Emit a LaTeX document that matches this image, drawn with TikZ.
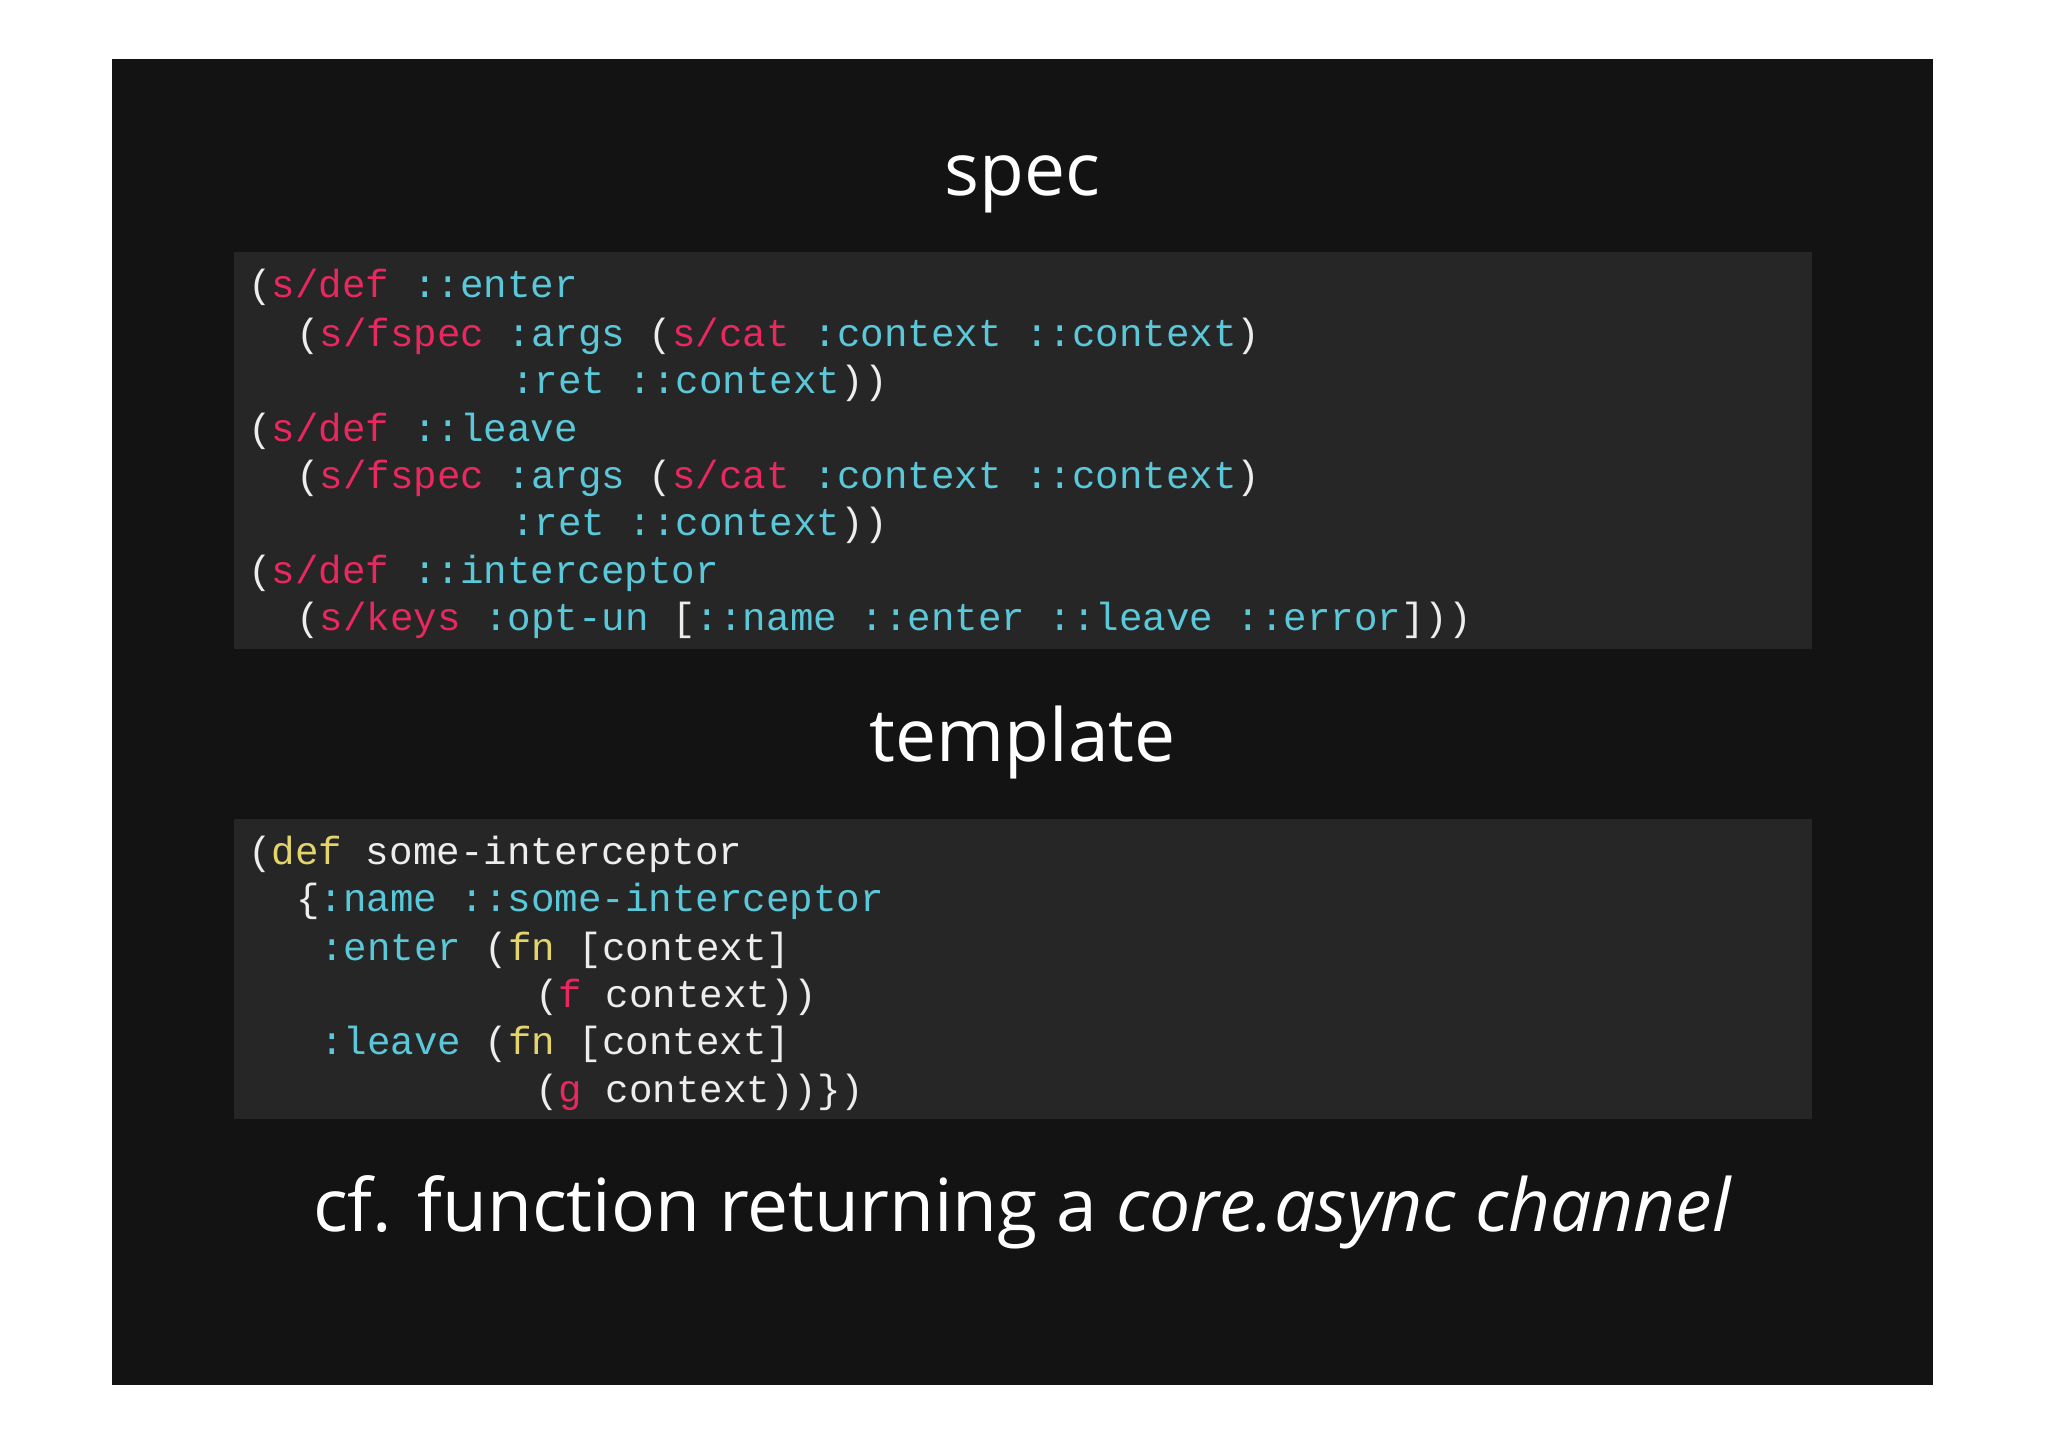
\documentclass[tikz,border=0pt]{standalone}
\usepackage{fontspec}
\setmainfont{Open Sans}
\newfontfamily\codefont{Liberation Mono}
\definecolor{slide}{HTML}{131313}
\definecolor{codebg}{HTML}{262626}
\definecolor{cred}{HTML}{E8285F}
\definecolor{ccy}{HTML}{5BC8D9}
\definecolor{cyl}{HTML}{E3D56C}
\definecolor{cwh}{HTML}{EDEDED}
\newcommand{\Rr}[1]{\textcolor{cred}{#1}}
\newcommand{\Cc}[1]{\textcolor{ccy}{#1}}
\newcommand{\Yy}[1]{\textcolor{cyl}{#1}}
\tikzset{
  code/.style={anchor=base west,inner sep=0pt,text=cwh,font=\codefont\fontsize{30}{36}\selectfont},
  title/.style={text=white,inner sep=0pt,anchor=base,font=\fontsize{56}{60}\selectfont}
}
\begin{document}
\begin{tikzpicture}[x=1pt,y=-1pt]
\useasboundingbox (0,0) rectangle (1568,1108);
\fill[white] (0,0) rectangle (1568,1108);
\fill[slide] (86,45) rectangle (1480,1060);
\fill[codebg] (179,193) rectangle (1387,497);
\fill[codebg] (179,627) rectangle (1387,857);
\node[title] (t1) at (783,150) {spec};
\node[title] (t2) at (783,583) {template};
\node[title] (t3) at (783,943) {cf. function returning a \textit{core.async channel}};
\def\cw{18.3}
\node[code] (a1) at (190,228) {(\Rr{s/def} \Cc{::enter}};
\node[code] (a2) at (190+2*\cw,265) {(\Rr{s/fspec} \Cc{:args} (\Rr{s/cat} \Cc{:context ::context})};
\node[code] (a3) at (190+11*\cw,301) {\Cc{:ret ::context}))};
\node[code] (a4) at (190,338) {(\Rr{s/def} \Cc{::leave}};
\node[code] (a5) at (190+2*\cw,374) {(\Rr{s/fspec} \Cc{:args} (\Rr{s/cat} \Cc{:context ::context})};
\node[code] (a6) at (190+11*\cw,410) {\Cc{:ret ::context}))};
\node[code] (a7) at (190,447) {(\Rr{s/def} \Cc{::interceptor}};
\node[code] (a8) at (190+2*\cw,483) {(\Rr{s/keys} \Cc{:opt-un} [\Cc{::name ::enter ::leave ::error}]))};
\node[code] (b1) at (190,662) {(\Yy{def} some-interceptor};
\node[code] (b2) at (190+2*\cw,698) {\{\Cc{:name ::some-interceptor}};
\node[code] (b3) at (190+3*\cw,735) {\Cc{:enter} (\Yy{fn} [context]};
\node[code] (b4) at (190+12*\cw,771) {(\Rr{f} context))};
\node[code] (b5) at (190+3*\cw,807) {\Cc{:leave} (\Yy{fn} [context]};
\node[code] (b6) at (190+12*\cw,844) {(\Rr{g} context))\})};
\end{tikzpicture}
\end{document}
